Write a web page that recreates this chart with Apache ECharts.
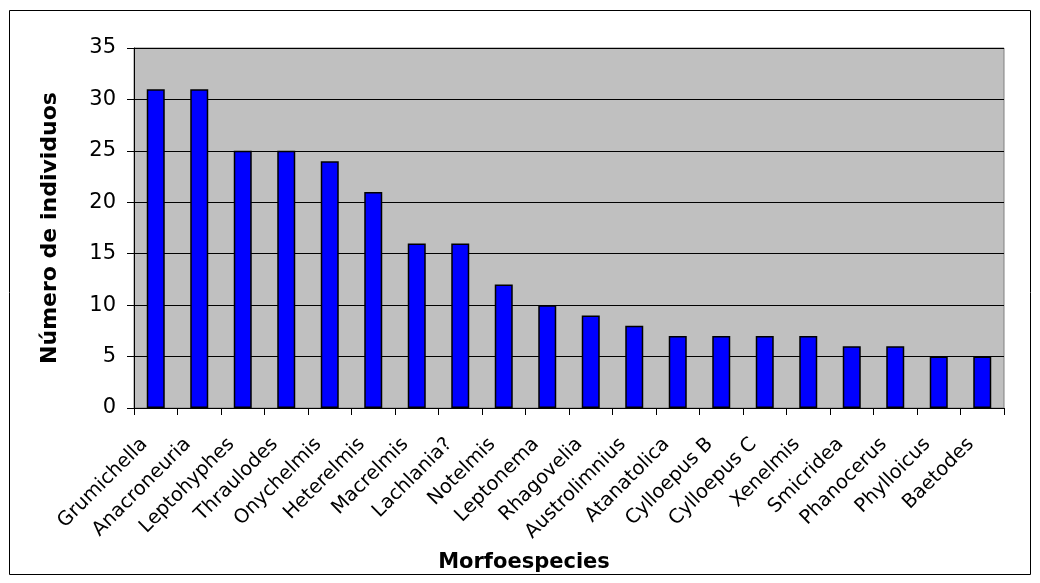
<!DOCTYPE html>
<html><head><meta charset="utf-8">
<script src="https://cdn.jsdelivr.net/npm/echarts@6/dist/echarts.min.js"></script>
<style>html,body{margin:0;padding:0;background:#fff}#c{width:1040px;height:583px}</style>
</head><body><div id="c"></div>
<script>
const categories = ["Grumichella","Anacroneuria","Leptohyphes","Thraulodes","Onychelmis","Heterelmis","Macrelmis","Lachlania?","Notelmis","Leptonema","Rhagovelia","Austrolimnius","Atanatolica","Cylloepus B","Cylloepus C","Xenelmis","Smicridea","Phanocerus","Phylloicus","Baetodes"];
const values = [31,31,25,25,24,21,16,16,12,10,9,8,7,7,7,7,6,6,5,5];
const yTicks = [0,5,10,15,20,25,30,35];
const FONT = "DejaVu Sans";
const chart = echarts.init(document.getElementById('c'), null, {renderer:'canvas'});
chart.setOption({
  animation:false,
  backgroundColor:'#fff',
  graphic:[{type:'rect',shape:{x:9.5,y:10.5,width:1021,height:564},style:{fill:'none',stroke:'#000',lineWidth:1},z:-1}],
  grid:{left:134,right:36,top:48,bottom:175,show:true,backgroundColor:'#C0C0C0',borderColor:'#808080',borderWidth:1},
  xAxis:{type:'category',data:categories,
    name:'Morfoespecies',nameLocation:'middle',nameGap:144,
    nameTextStyle:{fontFamily:FONT,fontWeight:'bold',fontSize:21,color:'#000',padding:[0,90,0,0]},
    axisLine:{lineStyle:{color:'#000',width:1}},
    axisTick:{show:true,length:7,lineStyle:{color:'#000'}},
    axisLabel:{rotate:45,fontFamily:FONT,fontSize:19.5,color:'#000',margin:22,interval:0,padding:[0,16,0,0]}},
  yAxis:{type:'value',min:yTicks[0],max:yTicks[yTicks.length-1],interval:5,
    name:'Número de individuos',nameLocation:'middle',nameGap:73,nameRotate:90,
    nameTextStyle:{fontFamily:FONT,fontWeight:'bold',fontSize:22,color:'#000'},
    axisLine:{show:true,lineStyle:{color:'#000',width:1}},
    axisTick:{show:true,length:7,lineStyle:{color:'#000'}},
    axisLabel:{fontFamily:FONT,fontSize:21,color:'#000',margin:18},
    splitLine:{show:true,lineStyle:{color:'#000',width:1}}},
  series:[{type:'bar',data:values,barWidth:18,
    itemStyle:{color:'#0000FF',borderColor:'#000',borderWidth:1.5}}]
});
</script></body></html>
